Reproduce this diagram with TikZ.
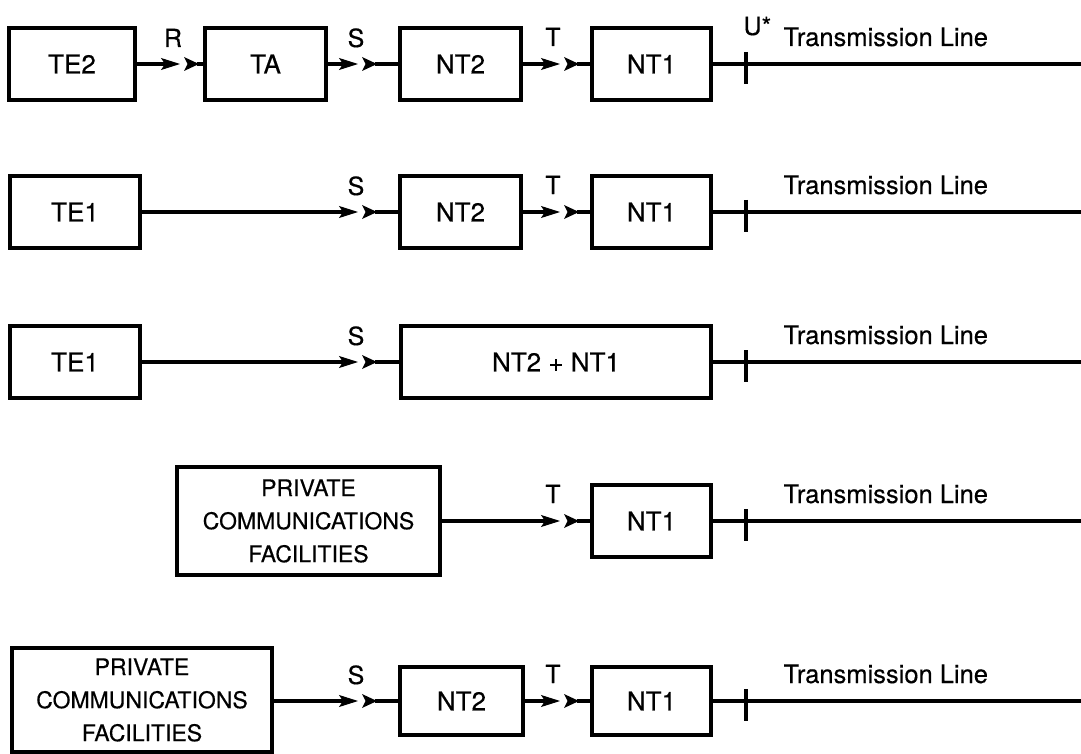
\documentclass[tikz,border=0pt]{standalone}
\usepackage{fontspec}
\setmainfont{TeX Gyre Heros}[FakeBold=0.4]
\usetikzlibrary{arrows.meta}
% arrow into a gap, receiving chevron, then wire into the next box
\newcommand\linkup[4]{%
  \coordinate (#1-tip) at ({#3-2},#4);
  \coordinate (#1-back) at ({#3+2},#4);
  \coordinate (#1-nose) at ({#3+15},#4);
  \draw[head] (#1.east |- #1-tip) -- (#1-tip);
  \pic at (#1-back) {plug};
  \draw[wire] (#1-nose) -- (#2.west);
}
\begin{document}
\begin{tikzpicture}[x=1pt,y=-1pt,
  box/.style={draw, line width=3.4pt, inner sep=0pt, minimum height=72pt,
    font=\fontsize{26}{30}\selectfont},
  wide/.style={box, align=center, font=\fontsize{23}{33}\selectfont},
  wire/.style={line width=3.2pt},
  head/.style={wire, -{Stealth[length=19pt,width=12pt,inset=4pt,line width=1pt]}},
  plug/.pic={\fill (0,-7) -- (15,0) -- (0,7) -- (3.5,0) -- cycle;},
  lbl/.style={font=\fontsize{25}{29}\selectfont, anchor=base},
  tline/.style={font=\fontsize{25.5}{30}\selectfont, anchor=base west},
]
\useasboundingbox (0,0) rectangle (1081,754);

% ---------- row 1: TE2 - TA - NT2 - NT1 ----------
\node[box, minimum width=126pt] (te2) at (72,64) {TE2};
\node[box, minimum width=121pt] (ta) at (265.5,64) {TA};
\node[box, minimum width=121pt] (nt2a) at (460.5,64) {NT2};
\node[box, minimum width=119pt] (nt1a) at (651.5,64) {NT1};
\linkup{te2}{ta}{182}{64}
\linkup{ta}{nt2a}{360}{64}
\linkup{nt2a}{nt1a}{562}{64}
\node[lbl] (lr1) at (173,47) {R};
\node[lbl] (ls1) at (356,47) {S};
\node[lbl] (lt1) at (553,46) {T};
\coordinate (e1) at (1081,64);
\draw[wire] (nt1a.east) -- (e1);
\coordinate (k1a) at (746,52); \coordinate (k1b) at (746,84);
\draw[wire] (k1a) -- (k1b);
\node[anchor=base west, font=\fontsize{25}{29}\selectfont] (u1) at (740,35) {U*};
\node[tline] (tl1) at (780,46) {Transmission Line};

% ---------- row 2: TE1 - NT2 - NT1 ----------
\node[box, minimum width=130pt] (te1a) at (75,212) {TE1};
\node[box, minimum width=121pt] (nt2b) at (460.5,212) {NT2};
\node[box, minimum width=119pt] (nt1b) at (651.5,212) {NT1};
\linkup{te1a}{nt2b}{360}{212}
\linkup{nt2b}{nt1b}{562}{212}
\node[lbl] (ls2) at (356,195) {S};
\node[lbl] (lt2) at (553,194) {T};
\coordinate (e2) at (1081,212);
\draw[wire] (nt1b.east) -- (e2);
\coordinate (k2a) at (746,200); \coordinate (k2b) at (746,232);
\draw[wire] (k2a) -- (k2b);
\node[tline] (tl2) at (780,194) {Transmission Line};

% ---------- row 3: TE1 - NT2 + NT1 ----------
\node[box, minimum width=130pt] (te1b) at (75,362) {TE1};
\node[box, minimum width=310pt] (ntc) at (556,362) {NT2 + NT1};
\linkup{te1b}{ntc}{360}{362}
\node[lbl] (ls3) at (356,345) {S};
\coordinate (e3) at (1081,362);
\draw[wire] (ntc.east) -- (e3);
\coordinate (k3a) at (746,350); \coordinate (k3b) at (746,382);
\draw[wire] (k3a) -- (k3b);
\node[tline] (tl3) at (780,344) {Transmission Line};

% ---------- row 4: private facilities - NT1 ----------
\node[wide, minimum width=263pt, minimum height=108pt] (pcf1) at (308.5,521)
  {PRIVATE\\COMMUNICATIONS\\FACILITIES};
\node[box, minimum width=119pt] (nt1d) at (651.5,521) {NT1};
\linkup{pcf1}{nt1d}{562}{521}
\node[lbl] (lt4) at (553,503) {T};
\coordinate (e4) at (1081,521);
\draw[wire] (nt1d.east) -- (e4);
\coordinate (k4a) at (746,509); \coordinate (k4b) at (746,541);
\draw[wire] (k4a) -- (k4b);
\node[tline] (tl4) at (780,503) {Transmission Line};

% ---------- row 5: private facilities - NT2 - NT1 ----------
\node[wide, minimum width=260pt, minimum height=104pt] (pcf2) at (142,700)
  {PRIVATE\\COMMUNICATIONS\\FACILITIES};
\node[box, minimum width=123pt, minimum height=68pt] (nt2e) at (461.5,701) {NT2};
\node[box, minimum width=119pt, minimum height=68pt] (nt1e) at (651.5,701) {NT1};
\linkup{pcf2}{nt2e}{360}{701}
\linkup{nt2e}{nt1e}{562}{701}
\node[lbl] (ls5) at (356,684) {S};
\node[lbl] (lt5) at (553,683) {T};
\coordinate (e5) at (1081,701);
\draw[wire] (nt1e.east) -- (e5);
\coordinate (k5a) at (746,689); \coordinate (k5b) at (746,721);
\draw[wire] (k5a) -- (k5b);
\node[tline] (tl5) at (780,683) {Transmission Line};
\end{tikzpicture}
\end{document}
